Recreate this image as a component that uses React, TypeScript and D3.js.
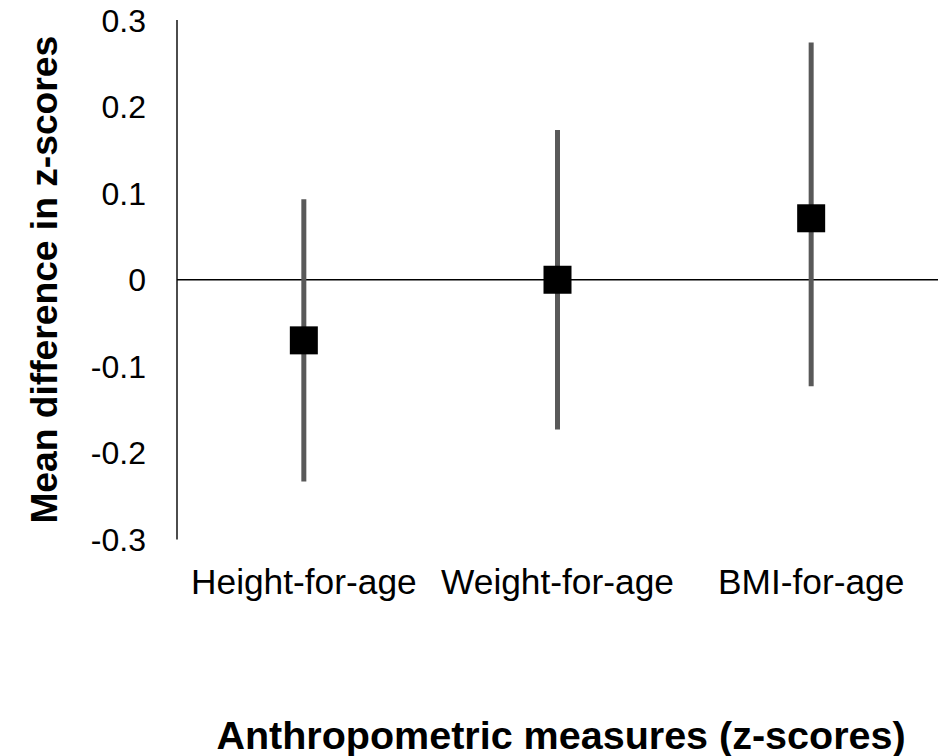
import React from 'react';
import * as d3 from 'd3';

const categories = ['Height-for-age', 'Weight-for-age', 'BMI-for-age'];
const means = [-0.07, 0.0, 0.071];
const lower = [-0.233, -0.173, -0.123];
const upper = [0.093, 0.173, 0.274];
const yTicks = [0.3, 0.2, 0.1, 0, -0.1, -0.2, -0.3];

const W = 945;
const H = 756;
const margin = { top: 20, right: 7, bottom: 216.5, left: 177 };
const FONT = '"Liberation Sans", Arial, sans-serif';

const App = () => {
  const x = d3.scaleBand<string>()
    .domain(categories)
    .range([margin.left, W - margin.right]);

  const y = d3.scaleLinear()
    .domain([-0.3, 0.3])
    .range([H - margin.bottom, margin.top]);

  const cx = (c: string) => (x(c) as number) + x.bandwidth() / 2;
  // excel style labels: plain hyphen for negatives, bare 0
  const fmt = (v: number) => (v === 0 ? '0' : d3.format('.1f')(v).replace('\u2212', '-'));
  const markerSize = 28;

  return (
    <svg
      width={W}
      height={H}
      style={{ position: 'absolute', left: 0, top: 0, background: '#fff' }}
      fontFamily={FONT}
    >
      {/* y axis line */}
      <line x1={margin.left} x2={margin.left} y1={y(0.3)} y2={y(-0.3)} stroke="#000" strokeWidth={1.4} />
      {/* zero line */}
      <line x1={margin.left} x2={W - margin.right} y1={y(0)} y2={y(0)} stroke="#000" strokeWidth={1.6} />

      {yTicks.map(t => (
        <text key={t} x={146} y={y(t)} dy="0.36em" textAnchor="end" fontSize={32} fill="#000">
          {fmt(t)}
        </text>
      ))}

      {categories.map((c, i) => (
        <g key={c}>
          <line
            x1={cx(c)} x2={cx(c)}
            y1={y(upper[i])} y2={y(lower[i])}
            stroke="#595959" strokeWidth={5}
          />
          <rect
            x={cx(c) - markerSize / 2}
            y={y(means[i]) - markerSize / 2}
            width={markerSize}
            height={markerSize}
            fill="#000"
          />
          <text x={cx(c)} y={594} textAnchor="middle" fontSize={35.3} fill="#000">
            {c}
          </text>
        </g>
      ))}

      <text
        transform={`translate(57,${y(0)}) rotate(-90)`}
        textAnchor="middle"
        fontSize={37.2}
        fontWeight="bold"
        fill="#000"
      >
        Mean difference in z-scores
      </text>

      <text x={561} y={749} textAnchor="middle" fontSize={39.5} fontWeight="bold" fill="#000">
        Anthropometric measures (z-scores)
      </text>
    </svg>
  );
};

export default App;
